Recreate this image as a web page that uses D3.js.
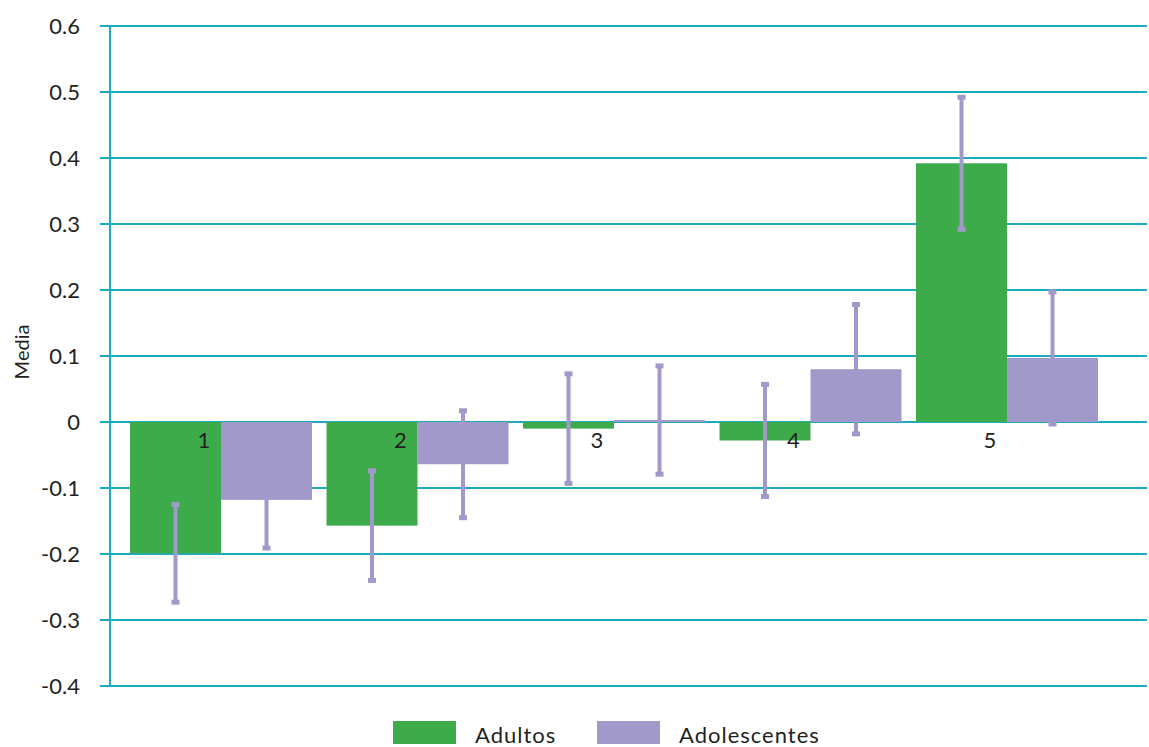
<!DOCTYPE html>
<html>
<head>
<meta charset="utf-8">
<script src="https://cdn.jsdelivr.net/npm/d3@7"></script>
<style>
body{margin:0;background:#fff;}
text{font-family:Lato,"Open Sans",sans-serif;fill:#231f20;}
</style>
</head>
<body>
<div id="plot"></div>
<script>
//data
var groups = ['1','2','3','4','5'];
var series = ['Adultos','Adolescentes'];
var adultos = [-0.199, -0.157, -0.01, -0.028, 0.392];
var adultosErr = [0.074, 0.083, 0.083, 0.085, 0.1];
var adolescentes = [-0.118, -0.064, 0.003, 0.08, 0.097];
var adolescentesErr = [0.073, 0.081, 0.082, 0.098, 0.1];
var yTicks = [-0.4,-0.3,-0.2,-0.1,0,0.1,0.2,0.3,0.4,0.5,0.6];

var colors = {Adultos:'#3dab4a', Adolescentes:'#a299cb'};
var gridColor = '#1fabbf';

var width = 1149, height = 747;
var svg = d3.select('#plot').append('svg')
	.attr('width',width)
	.attr('height',height);

var x0 = d3.scaleBand().domain(groups).range([130,1098]).paddingInner(0.0738).paddingOuter(0);
var x1 = d3.scaleBand().domain(series).range([0,x0.bandwidth()]);
var y = d3.scaleLinear().domain([-0.4,0.6]).range([686,26]);

//grid
svg.append('g').selectAll('line').data(yTicks).enter().append('line')
	.attr('x1',100).attr('x2',1147)
	.attr('y1',d=>y(d)).attr('y2',d=>y(d))
	.style('stroke',gridColor).style('stroke-width',2);
svg.append('line').attr('x1',110).attr('x2',110).attr('y1',y(0.6)).attr('y2',y(-0.4))
	.style('stroke',gridColor).style('stroke-width',2);

//y labels
svg.append('g').selectAll('text').data(yTicks).enter().append('text')
	.attr('x',80).attr('y',d=>y(d)+8)
	.attr('text-anchor','end')
	.style('font-size','22px')
	.text(d=>d===0?'0':d3.format('.1f')(d).replace('\u2212','-'));

svg.append('text').attr('transform','translate(29,352) rotate(-90)')
	.attr('text-anchor','middle').style('font-size','20px').text('Media');

var rows = groups.map(function(g,i){
	return {g:g, a:adultos[i], ae:adultosErr[i], b:adolescentes[i], be:adolescentesErr[i]};
});

function errBar(sel, key, val, err){
	var cx = d=>x0(d.g)+x1(key)+x1.bandwidth()/2;
	var e = sel.append('g').selectAll('g').data(rows).enter().append('g');
	e.append('line').attr('x1',cx).attr('x2',cx)
		.attr('y1',d=>y(d[val]+d[err])).attr('y2',d=>y(d[val]-d[err]))
		.style('stroke',colors.Adolescentes).style('stroke-width',4);
	e.append('rect').attr('x',d=>cx(d)-4).attr('width',8).attr('height',5)
		.attr('y',d=>y(d[val]+d[err])-2.5).style('fill',colors.Adolescentes);
	e.append('rect').attr('x',d=>cx(d)-4).attr('width',8).attr('height',5)
		.attr('y',d=>y(d[val]-d[err])-2.5).style('fill',colors.Adolescentes);
}

//adolescent error bars sit behind their bars
errBar(svg,'Adolescentes','b','be');

svg.append('g').selectAll('rect').data(rows).enter().append('rect')
	.attr('x',d=>x0(d.g)+x1('Adolescentes'))
	.attr('width',x1.bandwidth())
	.attr('y',d=>y(Math.max(0,d.b)))
	.attr('height',d=>Math.abs(y(d.b)-y(0)))
	.style('fill',colors.Adolescentes);

svg.append('g').selectAll('rect').data(rows).enter().append('rect')
	.attr('x',d=>x0(d.g)+x1('Adultos'))
	.attr('width',x1.bandwidth())
	.attr('y',d=>y(Math.max(0,d.a)))
	.attr('height',d=>Math.abs(y(d.a)-y(0)))
	.style('fill',colors.Adultos);

errBar(svg,'Adultos','a','ae');

//category labels
svg.append('g').selectAll('text').data(groups).enter().append('text')
	.attr('x',d=>x0(d)+x0.bandwidth()/2-17)
	.attr('y',y(0)+26)
	.attr('text-anchor','middle')
	.style('font-size','22px')
	.text(d=>d);

//legend
var leg = svg.append('g').selectAll('g').data(series).enter().append('g')
	.attr('transform',(d,i)=>'translate('+(393+i*204)+',721)');
leg.append('rect').attr('width',63).attr('height',23).style('fill',d=>colors[d]);
leg.append('text').attr('x',82).attr('y',22).style('font-size','22px')
	.style('letter-spacing','1px').text(d=>d);
</script>
</body>
</html>
